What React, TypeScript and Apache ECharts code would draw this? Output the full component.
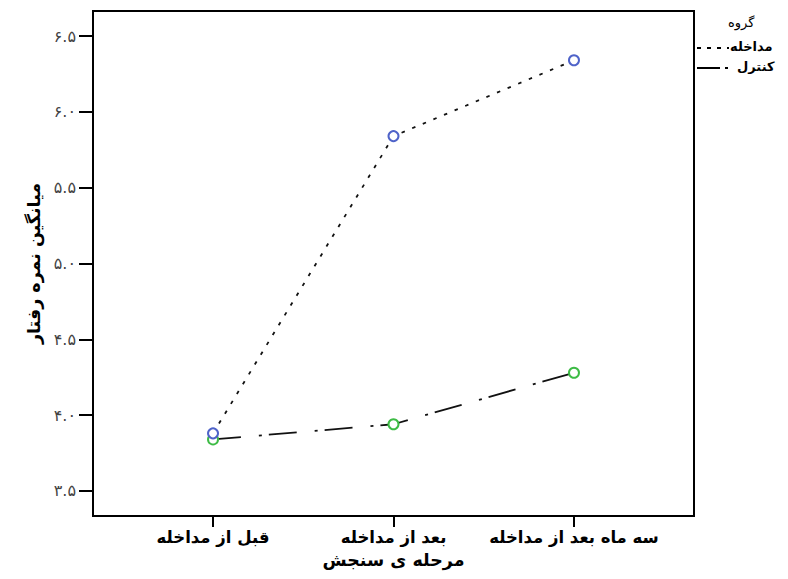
import React, { useEffect, useRef } from "react";
import * as echarts from "echarts";

const categories = ["قبل از مداخله", "بعد از مداخله", "سه ماه بعد از مداخله"];
const interventionValues = [3.88, 5.84, 6.34];
const controlValues = [3.84, 3.94, 4.28];
const yTicks = [3.5, 4.0, 4.5, 5.0, 5.5, 6.0, 6.5];
const xTicks = [0, 1, 2];
const legendTitle = "گروه";
const seriesNames = ["مداخله", "کنترل"];
const xAxisTitle = "مرحله ی سنجش";
const yAxisTitle = "میانگین نمره رفتار";

const FONT = "'DejaVu Sans', sans-serif";

const toPersian = (s: string) =>
  s.replace(/[0-9]/g, (d) => String.fromCharCode(0x06f0 + Number(d)));

export default function App() {
  const ref = useRef<HTMLDivElement>(null);
  useEffect(() => {
    if (!ref.current) return;
    const chart = echarts.init(ref.current, undefined, { renderer: "svg" });
    chart.setOption({
      animation: false,
      backgroundColor: "#fff",
      textStyle: { fontFamily: FONT },
      grid: {
        left: 93,
        top: 11,
        width: 601,
        height: 505,
        show: true,
        borderColor: "#000",
        borderWidth: 2,
        backgroundColor: "transparent",
      },
      xAxis: {
        type: "value",
        min: -0.665,
        max: 2.665,
        axisLine: { show: false, onZero: false },
        splitLine: { show: false },
        axisTick: {
          show: true,
          length: 11,
          customValues: xTicks,
          lineStyle: { color: "#000", width: 2 },
        },
        axisLabel: {
          customValues: xTicks,
          formatter: (v: number) => categories[Math.round(v)] ?? "",
          fontSize: 16.5,
          fontWeight: "bold",
          color: "#000",
          fontFamily: FONT,
          margin: 13,
        },
        name: xAxisTitle,
        nameLocation: "middle",
        nameGap: 35,
        nameTextStyle: {
          fontSize: 17.5,
          fontWeight: "bold",
          color: "#000",
          fontFamily: FONT,
        },
      },
      yAxis: {
        type: "value",
        min: 3.335,
        max: 6.665,
        axisLine: { show: false, onZero: false },
        splitLine: { show: false },
        axisTick: {
          show: true,
          length: 14,
          customValues: yTicks,
          lineStyle: { color: "#000", width: 2 },
        },
        axisLabel: {
          customValues: yTicks,
          formatter: (v: number) => toPersian(v.toFixed(1)),
          fontSize: 16,
          color: "#444",
          fontFamily: FONT,
          margin: 17,
        },
        name: yAxisTitle,
        nameLocation: "middle",
        nameGap: 48,
        nameRotate: 90,
        nameTextStyle: {
          fontSize: 17.5,
          fontWeight: "bold",
          color: "#000",
          fontFamily: FONT,
        },
      },
      series: [
        {
          name: seriesNames[0],
          type: "line",
          data: interventionValues.map((v, i) => [i, v]),
          symbol: "emptyCircle",
          symbolSize: 10,
          itemStyle: { color: "#4f63c9", borderWidth: 1.4 },
          lineStyle: { color: "#111", width: 1.8, type: [3.5, 8] },
          z: 3,
        },
        {
          name: seriesNames[1],
          type: "line",
          data: controlValues.map((v, i) => [i, v]),
          symbol: "emptyCircle",
          symbolSize: 10,
          itemStyle: { color: "#3dbb45", borderWidth: 1.4 },
          lineStyle: { color: "#111", width: 1.8, type: [28, 18, 3, 7] },
          z: 2,
        },
      ],
      graphic: [
        {
          type: "text",
          left: 728,
          top: 16,
          style: {
            text: legendTitle,
            fontSize: 13,
            fontFamily: FONT,
            fill: "#000",
          },
        },
        {
          type: "line",
          shape: { x1: 697, y1: 48, x2: 729, y2: 48 },
          style: { stroke: "#000", lineWidth: 1.8, lineDash: [4, 6] },
        },
        {
          type: "text",
          left: 730,
          top: 40,
          style: {
            text: seriesNames[0],
            fontSize: 13,
            fontWeight: "bold",
            fontFamily: FONT,
            fill: "#000",
          },
        },
        {
          type: "line",
          shape: { x1: 697, y1: 68, x2: 730, y2: 68 },
          style: { stroke: "#000", lineWidth: 1.8, lineDash: [23, 5, 3, 10] },
        },
        {
          type: "text",
          left: 737,
          top: 60,
          style: {
            text: seriesNames[1],
            fontSize: 13,
            fontWeight: "bold",
            fontFamily: FONT,
            fill: "#000",
          },
        },
      ],
    });
    return () => chart.dispose();
  }, []);
  return (
    <div
      ref={ref}
      style={{ position: "fixed", left: 0, top: 0, width: 788, height: 579 }}
    />
  );
}
